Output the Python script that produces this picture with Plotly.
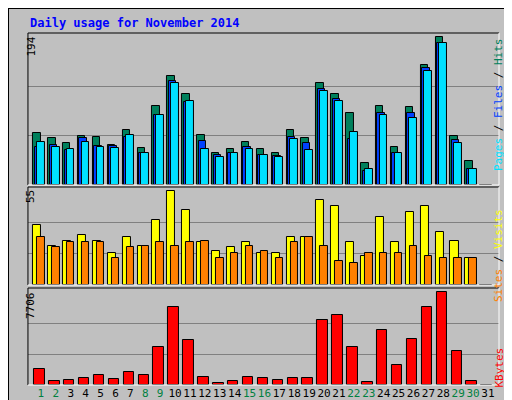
import plotly.graph_objects as go

# Data =========================================================================
days = list(range(1, 32))
hits = [68, 62, 55, 64, 63, 52, 72, 48, 104, 143, 120, 66, 42, 47, 56, 47, 42, 72, 62, 134, 120, 95, 29, 104, 50, 103, 157, 194, 64, 31, 0]
files = [50, 52, 46, 62, 51, 51, 63, 42, 92, 137, 109, 58, 39, 42, 50, 39, 38, 63, 55, 126, 113, 60, 18, 95, 42, 95, 153, 187, 59, 21, 0]
pages = [56, 50, 47, 56, 50, 48, 66, 42, 92, 134, 110, 47, 37, 42, 47, 39, 37, 60, 46, 124, 110, 70, 21, 92, 42, 88, 150, 186, 55, 21, 0]
visits = [35, 23, 26, 29, 26, 19, 28, 23, 38, 55, 44, 25, 20, 22, 25, 19, 19, 28, 28, 50, 46, 25, 17, 40, 25, 43, 46, 31, 26, 16, 0]
sites = [28, 22, 25, 25, 25, 16, 22, 23, 25, 23, 25, 26, 16, 19, 23, 20, 16, 25, 28, 23, 14, 13, 19, 19, 19, 23, 17, 16, 16, 16, 0]
kbytes = [1354, 338, 423, 592, 846, 508, 1100, 846, 3130, 6430, 3722, 677, 169, 338, 677, 592, 423, 592, 592, 5414, 5837, 3130, 254, 4568, 1692, 3807, 6430, 7706, 2792, 338, 0]
weekend_days = [1, 2, 8, 9, 15, 16, 22, 23, 29, 30]

max_hits, max_visits, max_kb = 194, 55, 7706

# Plot =========================================================================
fig = go.Figure()

def add_bars(vals, color, offset, width, yaxis):
    fig.add_trace(go.Bar(x=days, y=vals, offset=offset, width=width, yaxis=yaxis,
                         marker=dict(color=color, line=dict(color='black', width=1)),
                         showlegend=False, hoverinfo='y'))

add_bars(hits, '#00805C', -0.52, 0.5, 'y')
add_bars(files, '#0040FF', -0.42, 0.5, 'y')
add_bars(pages, '#00E0FF', -0.27, 0.52, 'y')
add_bars(visits, '#FFFF00', -0.52, 0.54, 'y2')
add_bars(sites, '#FF8000', -0.25, 0.5, 'y2')
add_bars(kbytes, '#FF0000', -0.45, 0.7, 'y3')

ticktext = [f"<span style='color:{'#008040' if d in weekend_days else 'black'}'>{d}</span>" for d in days]

def yax(domain, mx, top):
    return dict(domain=domain, range=[0, top], tickvals=[mx / 3, 2 * mx / 3], showticklabels=False,
                showgrid=True, gridcolor='#808080', gridwidth=1, zeroline=False, fixedrange=True,
                showline=False)

panels = [(25, 177), (179, 277), (280, 377)]

fig.update_layout(
    width=512, height=400,
    margin=dict(l=0, r=0, t=0, b=0),
    paper_bgcolor='#C0C0C0', plot_bgcolor='#C0C0C0',
    barmode='overlay', bargap=0,
    font=dict(family='DejaVu Sans Mono', size=11, color='black'),
    xaxis=dict(domain=[0.039, 0.959], range=[0.13, 31.74], tickvals=days, ticktext=ticktext,
               tickangle=0, showgrid=False, showline=False, ticks='',
               anchor='y3', tickfont=dict(size=11, family='DejaVu Sans Mono')),
    yaxis=yax([1 - 177 / 400, 1 - 25 / 400], max_hits, 199.5),
    yaxis2=yax([1 - 277 / 400, 1 - 179 / 400], max_visits, 57.4),
    yaxis3=yax([1 - 377 / 400, 1 - 280 / 400], max_kb, 8044),
)

# Panel frames: dark top/left, white bottom/right
for top, bot in panels:
    x0, x1 = 0.039, 0.959
    y0, y1 = 1 - bot / 400, 1 - top / 400
    fig.add_shape(type='line', xref='paper', yref='paper', x0=x0, x1=x1, y0=y1, y1=y1, line=dict(color='black', width=1))
    fig.add_shape(type='line', xref='paper', yref='paper', x0=x0, x1=x0, y0=y0, y1=y1, line=dict(color='black', width=1))
    fig.add_shape(type='line', xref='paper', yref='paper', x0=x0, x1=x1, y0=y0, y1=y0, line=dict(color='white', width=1))
    fig.add_shape(type='line', xref='paper', yref='paper', x0=x1, x1=x1, y0=y0, y1=y1, line=dict(color='white', width=1))

fig.add_annotation(x=20 / 512, y=1 - 15 / 400, xref='paper', yref='paper', xanchor='left', yanchor='middle',
                   text='<b>Daily usage for November 2014</b>', showarrow=False,
                   font=dict(family='DejaVu Sans Mono', size=12, color='#0000FF'))

for txt, yt in [(str(max_hits), 27), (str(max_visits), 180), (str(max_kb), 282)]:
    fig.add_annotation(x=14 / 512, y=1 - yt / 400, xref='paper', yref='paper', yanchor='top', text=txt,
                       textangle=-90, showarrow=False, font=dict(size=11))

right = [
    ("<span style='color:#00E0FF'>Pages</span> / <span style='color:#0040FF'>Files</span> / "
     "<span style='color:#00805C'>Hits</span>", 28),
    ("<span style='color:#FF8000'>Sites</span> / <span style='color:#FFFF00'>Visits</span>", 199),
    ("<span style='color:#FF0000'>KBytes</span>", 338),
]
for txt, yt in right:
    fig.add_annotation(x=499 / 512, y=1 - yt / 400, xref='paper', yref='paper', yanchor='top', text=txt,
                       textangle=-90, showarrow=False, font=dict(size=11, color='black'))

# Outer frame
fig.add_shape(type='rect', xref='paper', yref='paper', x0=0, y0=0, x1=1, y1=1,
              line=dict(color='black', width=2))

fig.write_html("out.html")
